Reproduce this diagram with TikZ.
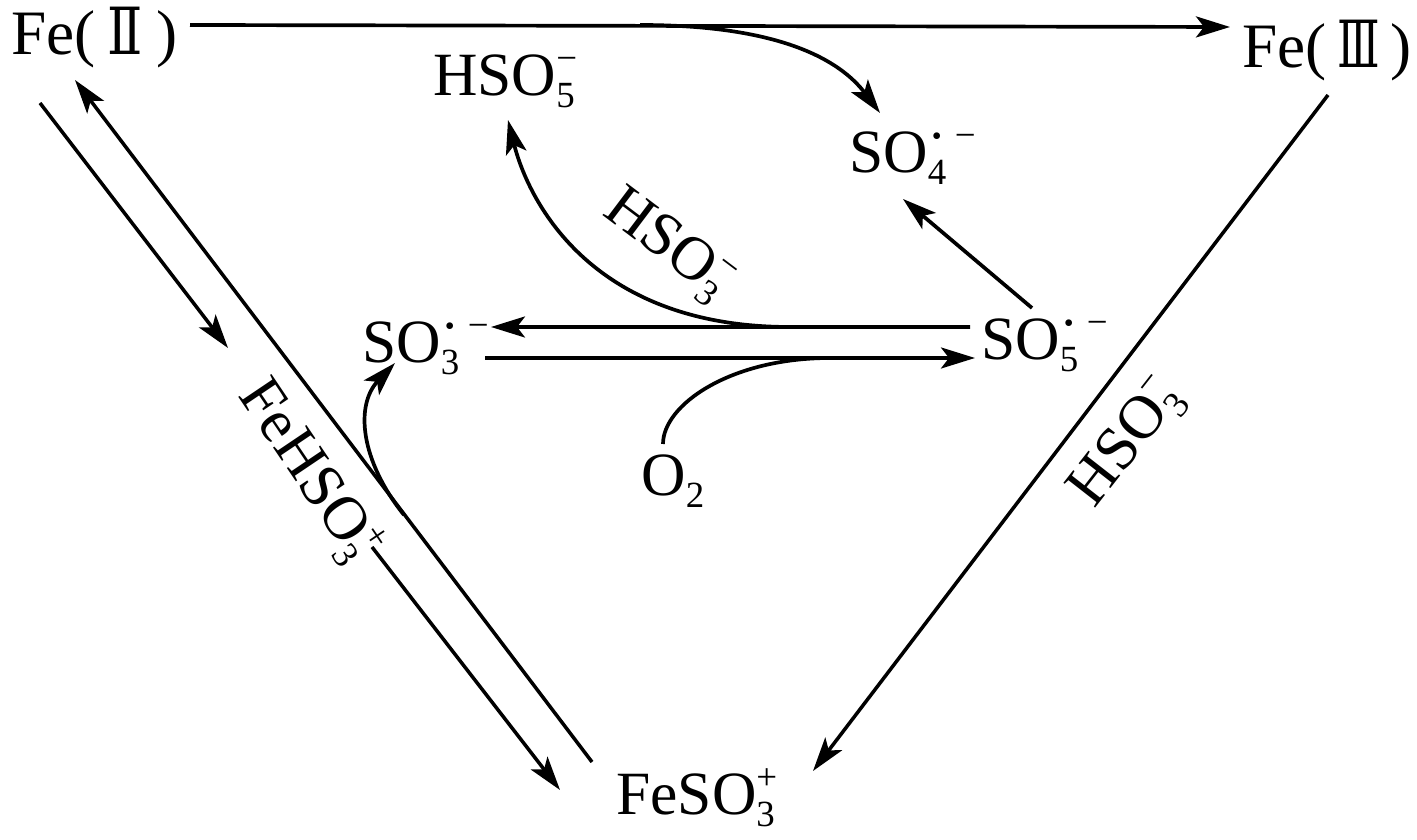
\documentclass[tikz,border=0pt]{standalone}
\usepackage{fontspec}
\setmainfont{Liberation Serif}
\newfontfamily\romanfont{DejaVu Serif}
\usetikzlibrary{arrows.meta}
\newcommand{\chemion}[3]{#1\rlap{\raisebox{-0.24cm}{\fontsize{21}{21}\selectfont #2}}\raisebox{0.5cm}{\fontsize{21}{21}\selectfont #3}}
\newcommand{\dotminus}{\hspace{0.08cm}\raisebox{0.04cm}{\fontsize{16}{16}\selectfont\textbullet}\hspace{0.26cm}−}
\newcommand{\romannum}[2]{\scalebox{#1}[1]{\fontsize{37}{40}\selectfont\romanfont #2}}
\tikzset{
	chem/.style={inner sep=0pt,font=\fontsize{35}{40}\selectfont},
	iron/.style={chem,font=\fontsize{36}{40}\selectfont},
	rxn/.style={line width=2.1pt,-{Stealth[length=0.68cm,width=0.42cm,inset=0.16cm]}},
	longrxn/.style={rxn,line width=2pt},
	branch/.style={line width=2.1pt}
}
\begin{document}
\begin{tikzpicture}
		\useasboundingbox (0,0) rectangle (28.34,16.8);
		
		\node[iron,anchor=base west] (feii) at (0.22,15.7) {Fe(\hspace{0.24cm}\romannum{0.8}{Ⅱ}\hspace{0.26cm})};
		\node[iron,anchor=base west] (feiii) at (24.84,15.44) {Fe(\,\romannum{0.68}{Ⅲ}\,)};
		\node[chem,anchor=base west] (hsofive) at (8.66,14.88) {\chemion{HSO}{5}{−}};
		\node[chem,anchor=base west] (sofour) at (16.98,13.34) {\chemion{SO}{4}{\dotminus}};
		\node[chem,anchor=base west] (sofive) at (19.62,9.6) {\chemion{SO}{5}{\dotminus}};
		\node[chem,anchor=base west] (sothree) at (7.24,9.54) {\chemion{SO}{3}{\dotminus}};
		\node[chem,anchor=base west] (otwo) at (12.82,6.88) {\chemion{O}{2}{}};
		\node[chem,anchor=base west] (fesothree) at (12.32,0.5) {\chemion{FeSO}{3}{+}};
		
		\node[chem,rotate=-56] (fehso) at (6.18,7.38) {\chemion{FeHSO}{3}{+}};
		\node[chem,rotate=-37] (hsoleft) at (13.34,11.88) {\chemion{HSO}{3}{−}};
		\node[chem,rotate=52] (hsoright) at (22.56,7.92) {\chemion{HSO}{3}{−}};
		
		\coordinate (topfork) at (12.8,16.3);
		\coordinate (midfork) at (15.8,10.26);
		\coordinate (lowfork) at (16.6,9.64);
		\coordinate (diagfork) at (8.08,6.5);
		
		% top line and its branch
		\draw[rxn] ([shift={(3.58,0.6)}]feii.base west) -- ([shift={(-0.24,0.82)}]feiii.base west);
		\draw[rxn] (topfork) .. controls (15.6,16.3) and (16.8,15.6) .. ([shift={(0.62,1.2)}]sofour.base west);
		
		\draw[rxn] ([shift={(1.02,1.04)}]sofive.base west) -- ([shift={(1.08,-0.52)}]sofour.base west);
		
		% middle pair
		\draw[rxn] ([shift={(-0.22,0.66)}]sofive.base west) -- ([shift={(2.58,0.72)}]sothree.base west);
		\draw[rxn] (midfork) .. controls (11.74,10.26) and (10.54,12.88) .. ([shift={(1.5,-0.48)}]hsofive.base west);
		\draw[rxn] ([shift={(2.46,0.1)}]sothree.base west) -- ([shift={(-0.12,0.04)}]sofive.base west);
		\draw[branch] ([shift={(0.44,1.04)}]otwo.base west) .. controls (13.26,8.7) and (14.6,9.64) .. (lowfork);
		\draw[rxn] (diagfork) .. controls (7.2,7.6) and (7.1,8.7) .. ([shift={(0.66,0)}]sothree.base west);
		
		% triangle sides
		\draw[longrxn] ([shift={(0.58,-0.96)}]feii.base west) -- ([shift={(-1.62,2.46)}]fehso.center);
		\draw[longrxn] ([shift={(-0.48,1.06)}]fesothree.base west) -- ([shift={(1.28,-0.5)}]feii.base west);
		\draw[longrxn] ([shift={(1.26,-1.52)}]fehso.center) -- ([shift={(-1.12,0.5)}]fesothree.base west);
		\draw[longrxn] ([shift={(1.72,-0.54)}]feiii.base west) -- ([shift={(3.94,0.88)}]fesothree.base west);
\end{tikzpicture}
\end{document}
